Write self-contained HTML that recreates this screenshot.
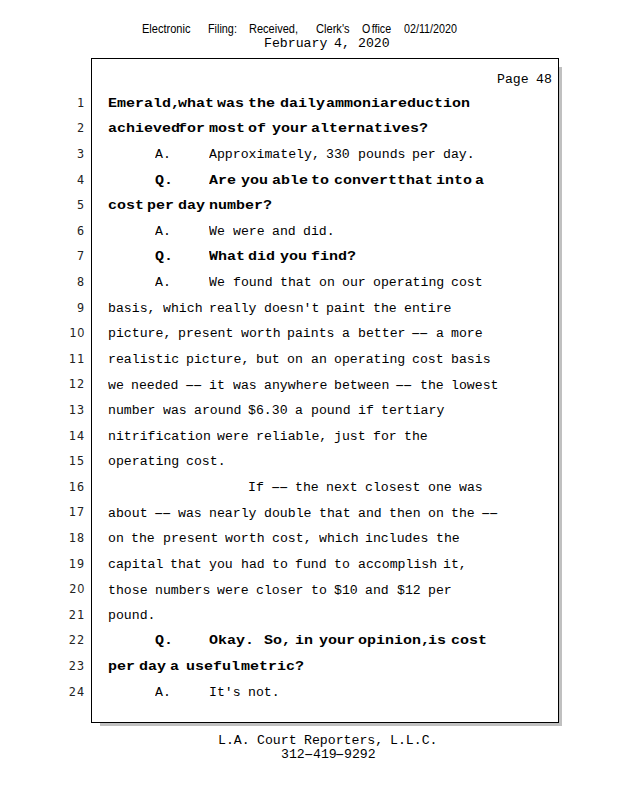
<!DOCTYPE html>
<html lang="en">
<head>
<meta charset="utf-8">
<title>Transcript - Page 48</title>
<style>
html,body{margin:0;padding:0;background:#fff;}
body{width:618px;height:800px;position:relative;overflow:hidden;font-family:"Liberation Mono","DejaVu Sans Mono",monospace;font-size:13px;color:#000;}
.l{position:absolute;left:0;width:618px;height:16px;line-height:16px;white-space:pre;}
.t{position:absolute;top:0;white-space:pre;line-height:16px;height:16px;font-size:12.0px;transform:scaleX(1.0998);transform-origin:0 50%;}
.d{letter-spacing:-3.498px;transform:scaleX(2.1333);}
.b{font-weight:bold;font-size:12.2px;transform:scaleX(1.2293);}
.n{position:absolute;right:532.6px;letter-spacing:1.2px;text-align:right;white-space:pre;color:#222;font-family:"DejaVu Sans Mono","Liberation Mono",monospace;font-size:11.8px;line-height:16px;height:16px;}
.n i{font-style:normal;font-family:"Liberation Sans",sans-serif;font-size:12px;}
.h{position:absolute;top:0;white-space:pre;font-family:"Liberation Sans",sans-serif;font-size:13.6px;line-height:16px;height:16px;transform-origin:0 50%;}
#box{position:absolute;left:91px;top:58px;width:466px;height:663px;border:1px solid #000;}
#sh1{position:absolute;left:559px;top:67px;width:3px;height:659px;background:#c0c0c0;}
#sh2{position:absolute;left:100px;top:723px;width:462px;height:3px;background:#c0c0c0;}
</style>
</head>
<body>
<div id="sh1"></div><div id="sh2"></div>
<div id="box"></div>

<div class="l" style="top:21.49px"><span class="h" style="left:141.60px;transform:scaleX(0.8117)">Electronic</span> <span class="h" style="left:207.60px;transform:scaleX(0.7970)">Filing:</span> <span class="h" style="left:248.80px;transform:scaleX(0.8097)">Received,</span> <span class="h" style="left:316.00px;transform:scaleX(0.8166)">Clerk&#x27;s</span> <span class="h" style="left:362.20px;transform:scaleX(0.7824)">O<span style="margin-left:1.9px">ffice</span></span> <span class="h" style="left:403.80px;transform:scaleX(0.7902)">02/11/2020</span></div>
<div class="l" style="top:36.01px"><span class="t" style="left:264.00px">February</span> <span class="t" style="left:334.20px">4,</span> <span class="t" style="left:357.60px">2020</span></div>
<div class="l" style="top:72.01px"><span class="t" style="left:497.00px">Page</span> <span class="t" style="left:536.00px">48</span></div>
<div class="l" style="top:95.95px"><span class="n" style="top:-0.89px">1</span> <span class="t b" style="left:108.00px">Emerald,</span> <span class="t b" style="left:178.20px">what</span> <span class="t b" style="left:217.20px">was</span> <span class="t b" style="left:248.40px">the</span> <span class="t b" style="left:279.60px">daily</span> <span class="t b" style="left:326.40px">ammonia</span> <span class="t b" style="left:388.80px">reduction</span></div>
<div class="l" style="top:120.95px"><span class="n" style="top:-0.89px">2</span> <span class="t b" style="left:108.00px">achieved</span> <span class="t b" style="left:178.20px">for</span> <span class="t b" style="left:209.40px">most</span> <span class="t b" style="left:248.40px">of</span> <span class="t b" style="left:271.80px">your</span> <span class="t b" style="left:310.80px">alternatives?</span></div>
<div class="l" style="top:147.01px"><span class="n" style="top:-0.95px">3</span> <span class="t" style="left:154.80px">A.</span> <span class="t" style="left:209.40px">Approximately,</span> <span class="t" style="left:326.40px">330</span> <span class="t" style="left:357.60px">pounds</span> <span class="t" style="left:412.20px">per</span> <span class="t" style="left:443.40px">day.</span></div>
<div class="l" style="top:172.95px"><span class="n" style="top:-0.89px">4</span> <span class="t b" style="left:154.80px">Q.</span> <span class="t b" style="left:209.40px">Are</span> <span class="t b" style="left:240.60px">you</span> <span class="t b" style="left:271.80px">able</span> <span class="t b" style="left:310.80px">to</span> <span class="t b" style="left:334.20px">convert</span> <span class="t b" style="left:396.60px">that</span> <span class="t b" style="left:435.60px">into</span> <span class="t b" style="left:474.60px">a</span></div>
<div class="l" style="top:197.95px"><span class="n" style="top:-0.89px">5</span> <span class="t b" style="left:108.00px">cost</span> <span class="t b" style="left:147.00px">per</span> <span class="t b" style="left:178.20px">day</span> <span class="t b" style="left:209.40px">number?</span></div>
<div class="l" style="top:224.01px"><span class="n" style="top:-0.95px">6</span> <span class="t" style="left:154.80px">A.</span> <span class="t" style="left:209.40px">We</span> <span class="t" style="left:232.80px">were</span> <span class="t" style="left:271.80px">and</span> <span class="t" style="left:303.00px">did.</span></div>
<div class="l" style="top:248.95px"><span class="n" style="top:-0.89px">7</span> <span class="t b" style="left:154.80px">Q.</span> <span class="t b" style="left:209.40px">What</span> <span class="t b" style="left:248.40px">did</span> <span class="t b" style="left:279.60px">you</span> <span class="t b" style="left:310.80px">find?</span></div>
<div class="l" style="top:275.01px"><span class="n" style="top:-0.95px">8</span> <span class="t" style="left:154.80px">A.</span> <span class="t" style="left:209.40px">We</span> <span class="t" style="left:232.80px">found</span> <span class="t" style="left:279.60px">that</span> <span class="t" style="left:318.60px">on</span> <span class="t" style="left:342.00px">our</span> <span class="t" style="left:373.20px">operating</span> <span class="t" style="left:451.20px">cost</span></div>
<div class="l" style="top:301.01px"><span class="n" style="top:-0.95px">9</span> <span class="t" style="left:108.00px">basis,</span> <span class="t" style="left:162.60px">which</span> <span class="t" style="left:209.40px">really</span> <span class="t" style="left:264.00px">doesn&#x27;t</span> <span class="t" style="left:326.40px">paint</span> <span class="t" style="left:373.20px">the</span> <span class="t" style="left:404.40px">entire</span></div>
<div class="l" style="top:326.01px"><span class="n" style="top:-0.95px">1<i>0</i></span> <span class="t" style="left:108.00px">picture,</span> <span class="t" style="left:178.20px">present</span> <span class="t" style="left:240.60px">worth</span> <span class="t" style="left:287.40px">paints</span> <span class="t" style="left:342.00px">a</span> <span class="t" style="left:357.60px">better</span> <span class="t d" style="left:408.02px">--</span> <span class="t" style="left:435.60px">a</span> <span class="t" style="left:451.20px">more</span></div>
<div class="l" style="top:352.01px"><span class="n" style="top:-0.95px">11</span> <span class="t" style="left:108.00px">realistic</span> <span class="t" style="left:186.00px">picture,</span> <span class="t" style="left:256.20px">but</span> <span class="t" style="left:287.40px">on</span> <span class="t" style="left:310.80px">an</span> <span class="t" style="left:334.20px">operating</span> <span class="t" style="left:412.20px">cost</span> <span class="t" style="left:451.20px">basis</span></div>
<div class="l" style="top:378.01px"><span class="n" style="top:-1.95px">12</span> <span class="t" style="left:108.00px">we</span> <span class="t" style="left:131.40px">needed</span> <span class="t d" style="left:181.82px">--</span> <span class="t" style="left:209.40px">it</span> <span class="t" style="left:232.80px">was</span> <span class="t" style="left:264.00px">anywhere</span> <span class="t" style="left:334.20px">between</span> <span class="t d" style="left:392.42px">--</span> <span class="t" style="left:420.00px">the</span> <span class="t" style="left:451.20px">lowest</span></div>
<div class="l" style="top:403.01px"><span class="n" style="top:-0.95px">13</span> <span class="t" style="left:108.00px">number</span> <span class="t" style="left:162.60px">was</span> <span class="t" style="left:193.80px">around</span> <span class="t" style="left:248.40px">$6.30</span> <span class="t" style="left:295.20px">a</span> <span class="t" style="left:310.80px">pound</span> <span class="t" style="left:357.60px">if</span> <span class="t" style="left:381.00px">tertiary</span></div>
<div class="l" style="top:429.01px"><span class="n" style="top:-0.95px">14</span> <span class="t" style="left:108.00px">nitrification</span> <span class="t" style="left:217.20px">were</span> <span class="t" style="left:256.20px">reliable,</span> <span class="t" style="left:334.20px">just</span> <span class="t" style="left:373.20px">for</span> <span class="t" style="left:404.40px">the</span></div>
<div class="l" style="top:454.01px"><span class="n" style="top:-0.95px">15</span> <span class="t" style="left:108.00px">operating</span> <span class="t" style="left:186.00px">cost.</span></div>
<div class="l" style="top:480.01px"><span class="n" style="top:-0.95px">16</span> <span class="t" style="left:248.40px">If</span> <span class="t d" style="left:267.62px">--</span> <span class="t" style="left:295.20px">the</span> <span class="t" style="left:326.40px">next</span> <span class="t" style="left:365.40px">closest</span> <span class="t" style="left:427.80px">one</span> <span class="t" style="left:459.00px">was</span></div>
<div class="l" style="top:506.01px"><span class="n" style="top:-1.95px">17</span> <span class="t" style="left:108.00px">about</span> <span class="t d" style="left:150.62px">--</span> <span class="t" style="left:178.20px">was</span> <span class="t" style="left:209.40px">nearly</span> <span class="t" style="left:264.00px">double</span> <span class="t" style="left:318.60px">that</span> <span class="t" style="left:357.60px">and</span> <span class="t" style="left:388.80px">then</span> <span class="t" style="left:427.80px">on</span> <span class="t" style="left:451.20px">the</span> <span class="t d" style="left:478.22px">--</span></div>
<div class="l" style="top:531.01px"><span class="n" style="top:-0.95px">18</span> <span class="t" style="left:108.00px">on</span> <span class="t" style="left:131.40px">the</span> <span class="t" style="left:162.60px">present</span> <span class="t" style="left:225.00px">worth</span> <span class="t" style="left:271.80px">cost,</span> <span class="t" style="left:318.60px">which</span> <span class="t" style="left:365.40px">includes</span> <span class="t" style="left:435.60px">the</span></div>
<div class="l" style="top:557.01px"><span class="n" style="top:-0.95px">19</span> <span class="t" style="left:108.00px">capital</span> <span class="t" style="left:170.40px">that</span> <span class="t" style="left:209.40px">you</span> <span class="t" style="left:240.60px">had</span> <span class="t" style="left:271.80px">to</span> <span class="t" style="left:295.20px">fund</span> <span class="t" style="left:334.20px">to</span> <span class="t" style="left:357.60px">accomplish</span> <span class="t" style="left:443.40px">it,</span></div>
<div class="l" style="top:583.01px"><span class="n" style="top:-1.95px">2<i>0</i></span> <span class="t" style="left:108.00px">those</span> <span class="t" style="left:154.80px">numbers</span> <span class="t" style="left:217.20px">were</span> <span class="t" style="left:256.20px">closer</span> <span class="t" style="left:310.80px">to</span> <span class="t" style="left:334.20px">$10</span> <span class="t" style="left:365.40px">and</span> <span class="t" style="left:396.60px">$12</span> <span class="t" style="left:427.80px">per</span></div>
<div class="l" style="top:608.01px"><span class="n" style="top:-0.95px">21</span> <span class="t" style="left:108.00px">pound.</span></div>
<div class="l" style="top:632.95px"><span class="n" style="top:-0.89px">22</span> <span class="t b" style="left:154.80px">Q.</span> <span class="t b" style="left:209.40px">Okay.</span> <span class="t b" style="left:264.00px">So,</span> <span class="t b" style="left:295.20px">in</span> <span class="t b" style="left:318.60px">your</span> <span class="t b" style="left:357.60px">opinion,</span> <span class="t b" style="left:427.80px">is</span> <span class="t b" style="left:451.20px">cost</span></div>
<div class="l" style="top:658.95px"><span class="n" style="top:-0.89px">23</span> <span class="t b" style="left:108.00px">per</span> <span class="t b" style="left:139.20px">day</span> <span class="t b" style="left:170.40px">a</span> <span class="t b" style="left:186.00px">useful</span> <span class="t b" style="left:240.60px">metric?</span></div>
<div class="l" style="top:685.01px"><span class="n" style="top:-0.95px">24</span> <span class="t" style="left:154.80px">A.</span> <span class="t" style="left:209.40px">It&#x27;s</span> <span class="t" style="left:248.40px">not.</span></div>
<div class="l" style="top:733.01px"><span class="t" style="left:218.00px">L.A.</span> <span class="t" style="left:257.00px">Court</span> <span class="t" style="left:303.80px">Reporters,</span> <span class="t" style="left:389.60px">L.L.C.</span></div>
<div class="l" style="top:747.01px"><span class="t" style="left:281.00px">312</span><span class="t d" style="left:300.58px">-</span><span class="t" style="left:312.68px">419</span><span class="t d" style="left:332.26px">-</span><span class="t" style="left:344.36px">9292</span></div>
</body>
</html>
